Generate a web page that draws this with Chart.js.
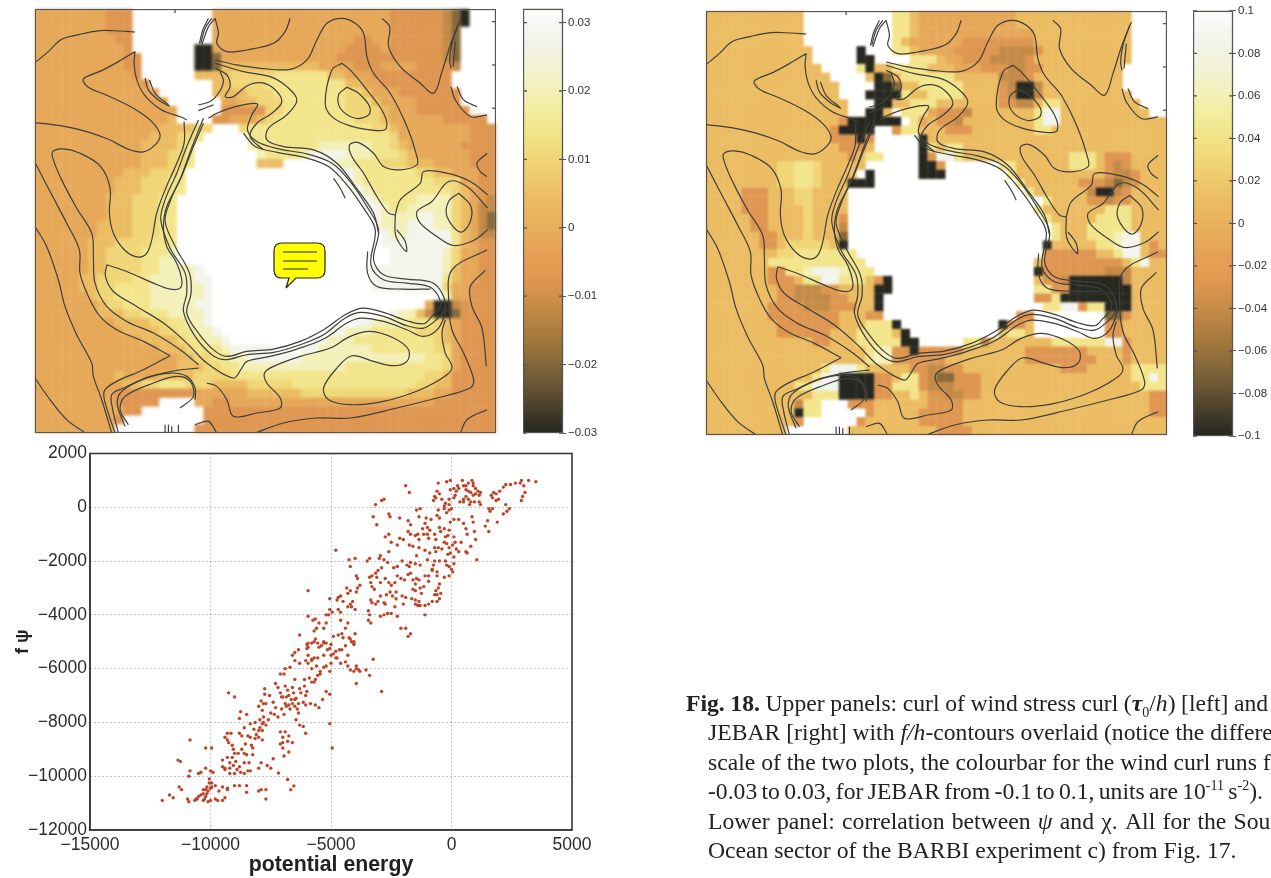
<!DOCTYPE html>
<html><head><meta charset="utf-8">
<script src="https://cdn.jsdelivr.net/npm/chart.js@4"></script>
<style>
html,body{margin:0;padding:0;background:#fff;width:1271px;height:878px;overflow:hidden}
canvas{position:absolute;filter:blur(0.55px)}
#windField{filter:blur(1.5px)}
#jebarField{filter:blur(0.9px)}
#note{position:absolute;left:270px;top:240px}
.cap{position:absolute;left:708px;font:23.65px/29px "Liberation Serif",serif;color:#222;white-space:nowrap;width:563px;overflow:hidden;filter:blur(0.3px)}
.cap sup,.cap sub{font-size:14px;line-height:0}
</style></head><body>
<canvas id="windField"></canvas><canvas id="windLines"></canvas><canvas id="windBar"></canvas>
<canvas id="jebarField"></canvas><canvas id="jebarLines"></canvas><canvas id="jebarBar"></canvas>
<canvas id="scatter"></canvas>
<svg id="note" width="60" height="54"><path d="M12 3H47Q55 3 55 11V30Q55 38 47 38H26L16 48L19 38H12Q4 38 4 30V11Q4 3 12 3Z" fill="#ffff00" stroke="#222" stroke-width="1.2"/><path d="M13 12H47M13 21H47M13 29H38" stroke="#222" stroke-width="1.2"/></svg>
<div class="cap" style="left:686px;width:585px;top:689px;word-spacing:-0.3px"><b>Fig. 18.</b> Upper panels: curl of wind stress curl (<b><i>τ</i></b><sub>0</sub>/<i>h</i>) [left] and</div>
<div class="cap" style="top:718px">JEBAR [right] with <i>f/h</i>-contours overlaid (notice the different</div>
<div class="cap" style="top:748px">scale of the two plots, the colourbar for the wind curl runs from</div>
<div class="cap" style="top:777px;word-spacing:-1.6px">-0.03 to 0.03, for JEBAR from -0.1 to 0.1, units are 10<sup>-11</sup> s<sup>-2</sup>).</div>
<div class="cap" style="top:807px;word-spacing:1.4px">Lower panel: correlation between <i>ψ</i> and χ. All for the Southern</div>
<div class="cap" style="top:836px">Ocean sector of the BARBI experiment c) from Fig. 17.</div>
<script>
// ---- colour scale, low to high
const colormap=["#26271f","#3a3527","#4f422c","#625033","#745c37","#866839","#96713c","#a67a3f","#b58243","#c38a47","#d2904c","#de9650","#e59c52","#e5a055","#e6a858","#e7af5a","#e9b55e","#ebbc62","#edc468","#efcd6f","#f0d676","#f1de80","#f2e58b","#f2ea99","#f3eea8","#f3f0b9","#f3f1c9","#f2f2d8","#f1f2e3","#f3f4ec","#f8f8f5","#fdfdfb"];
// ---- cell digit to value
const windLevels=[-0.03,-0.02,-0.013,-0.008,-0.002,0.003,0.008,0.012,0.018,0.025];
const jebarLevels=[-0.1,-0.066,-0.043,-0.027,-0.007,0.01,0.027,0.04,0.06,0.083];
const windTicks=[-0.03,-0.02,-0.01,0,0.01,0.02,0.03];
const jebarTicks=[-0.1,-0.08,-0.06,-0.04,-0.02,0,0.02,0.04,0.06,0.08,0.1];
const mapRightTicks=[65,195,325];
const mapTopTicks=[435];
// ---- gridded fields: 52 columns, 48 rows, "." = no data
const windRows=[
"4444444433 3......... 4444444444 4444444444 333333210. ..",
"4444444433 3......... 4444444444 4444444444 333333210. ..",
"4444444433 3......... 4444444444 4444444444 33333321.. ..",
"4444444443 3......... 4444444444 4444443344 33333321.. ..",
"4444444444 3.......00 4444444444 4444433334 33333321.. ..",
"4444444444 33......00 1444444444 4444333333 33333321.. ..",
"4444444444 33......00 1555555555 5544443334 44433332.. ..",
"4444444444 43......55 5566666777 7775544433 3333333... ..",
"4444444444 443....... 5566667777 7777755443 3333333... ..",
"4444444444 4444...... 5555666777 7777766544 43333333.. ..",
"4444444444 44444..... .445566677 7777766654 44433333.. ..",
"4444444444 444444.... .333336677 7777766665 444333333. ..",
"4444444444 444445.... 3344456777 7777776665 4444443333 3.",
"4444444444 4444555566 ...6777777 7777777766 5444444443 33",
"4444444444 444555667. ....777777 7777777777 6444444443 33",
"4444444444 44555567.. ....877777 7788888877 6544444433 33",
"4444444444 44555667.. .....87777 8999988877 7654444443 33",
"4444444444 44555667.. .....555.. ...9887776 6655544443 33",
"4444444444 5556667... .......... ....998777 7776655444 33",
"4444444445 5566677... .......... .....98777 7777766644 33",
"4444444445 5566677... .......... .....99877 7777777654 33",
"4444444455 566677.... .......... ......9987 7778888654 32",
"4444444455 566677.... .......... .......998 7788888654 22",
"4444444455 566677.... .......... ........98 8889988654 21",
"4444444555 566677.... .......... ........98 8899988654 21",
"4444444555 566677.... .......... .........9 8899999754 22",
"4444445556 666777.... .......... .........9 9999999754 33",
"4444445566 667778.... .......... .......... 9999998644 33",
"4444445566 667788.... .......... .......... 9999998644 33",
"4444445566 667788889. .......... ........99 9999998544 33",
"4444455666 6778888899 .......... ........99 9999997544 33",
"4444455667 7778888889 .......... ........99 9999996443 33",
"4444445667 7778888889 .......... .......... ......8443 33",
"4444444566 7778888899 .......... .......... ....400233 33",
"4444444555 6677788889 .......... .......... 9885200133 33",
"4444444445 5556677889 .......... ......9988 8877765433 33",
"4444444444 5555667788 9......... ...9988877 7776665433 33",
"4444444444 4455556778 89........ .998887777 7777765433 33",
"4444444444 4444555677 7899999... 9988888877 7777766433 33",
"4444444444 4444445566 7788999999 8888888888 8888776433 33",
"4444444444 4444445556 6778888888 8888877777 7777776433 33",
"4444444445 4444555566 6677777777 7777777777 7777665333 33",
"4444444444 5566777666 5555666667 7777777777 7776655333 33",
"4444444443 3333333344 4444555555 6666666666 6655544333 33",
"4444444443 3333....44 3344444444 4444444444 4444433333 33",
"4444444444 33.......3 3333333333 3333333333 3333333333 33",
"4444444443 .........3 3333333333 3333333333 3333333333 33",
"444444444. ........33 3333333333 3333333333 3333333333 33"];
const jebarRows=[
"5555555555 5......... .775444444 4444455555 55555555.. ..",
"5555555555 5......... .775444444 4444455555 55555555.. ..",
"5555555555 5......... .775444444 4444444555 55555555.. ..",
"5555555555 5......... .754444443 3333333555 55555555.. ..",
"5555555555 55.....0.. .775444433 3332222355 55555555.. ..",
"5555555555 55.....00. ...7775443 3322223555 55555555.. ..",
"5555555555 555....705 5777755544 4333223355 5555555... ..",
"5555555555 5555....50 1577777755 5552223555 5555555... ..",
"5555555555 55555....0 0155777775 5553200255 5555555... ..",
"5555555555 55555...00 0075577775 5553200255 55555555.. ..",
"5555555555 555555...0 0557775555 5553322577 555555555. ..",
"5555555555 555555..00 5.77743332 5555555799 5555555555 ..",
"5555555555 5555530000 00.7453325 5555555799 5555555555 55",
"5555555555 555530000. .377555333 5555555775 5555555555 55",
"5555555555 555533303. ....055555 5555555555 5555555555 55",
"5555555555 555553335. ....075775 5555555555 5555555555 55",
"5555555555 5555553577 ....039975 5555555555 5777533355 55",
"5555555566 77655555.. ....003... ...7755555 5777532355 55",
"5555555566 7765555.0. ....000... ....755555 5555532235 55",
"5555555566 776555000. .......... .....75555 5533321235 55",
"5555333555 665555.... .......... ......7555 5552002355 55",
"5555333555 665555.... .......... ........75 5553323355 55",
"5555333555 565555.... .......... .......755 5555577755 55",
"5555533555 565553.... .......... ........75 5555777755 55",
"5555533555 565552.... .......... .........7 5557777755 55",
"5555553355 565551.... .......... .........7 5557778995 55",
"5555553356 666650.... .......... ........05 5555778995 35",
"5555555566 7777777... .......... ........33 3333557995 33",
"5555555777 77777777.. .......... .......533 3333333579 55",
"5555555337 789998777. .......... .......033 3333322255 55",
"5555555333 5779977753 0......... .......533 2000000255 55",
"5555555533 2223355550 0......... .......773 3000000055 55",
"5555555533 2222335550 .......... .......337 0000000055 55",
"5555555333 3222333550 .......... ........77 9937700055 55",
"5555555333 3333355533 .......... .....33... .....11355 55",
"5555555533 3333355577 70........ ...0335... .....33555 55",
"5555555533 3333555777 750....... ...5775... .....33555 55",
"5555555555 5533555777 7700.....7 7255555557 7777799355 55",
"5555555555 5555555578 8330333335 5555553333 3335555355 55",
"5555555555 5555555578 8333333555 5555553333 3333555355 55",
"5555555555 5557999755 5553322335 5555555555 3335555577 77",
"5555555555 5579900003 3577321133 3555555555 5555555577 97",
"5555555555 7799900003 3777322233 3555555555 5555555557 77",
"5555555555 5577700003 3557533223 3555555555 5555555555 33",
"5555555555 277...3335 5555533335 5555555555 5555555555 33",
"5555555555 077.....35 5555333335 5555555555 5555555555 33",
"5555555555 3......355 5555333335 5555555555 5555555555 55",
"555555555. ......5555 5555553333 5555555555 5555555555 55"];
// ---- f/h contours, in map units (x 15..1397, y 27..1300)
const contours=[
[15,188,55,155,95,118,150,103,210,92,270,93,315,96],
[315,155,265,185,215,212,160,237,175,262,235,288,310,325,365,365,390,405,375,435,340,456,295,448,235,418,170,395,95,378,15,368],
[315,155,312,195,322,245,347,290,395,330,455,352,470,360],
[345,235,355,270,385,300,420,320],[358,240,375,280,415,315],
[462,365,462,430,440,490,405,570,380,640,365,720,350,760,325,772,285,752,250,700,238,640,240,565,212,500,150,460,100,447,68,455,70,480,95,540,140,625,185,700,190,770,195,850,230,920,290,965,370,1000,450,1050,505,1095],
[15,488,60,575,110,670,148,750,150,820,175,890,210,950,260,990,340,1025,420,1068],
[15,680,50,740,85,840,105,920,140,1005,185,1090,190,1130,215,1200,245,1300],
[420,1068,340,1110,260,1145,225,1170,222,1195,238,1250,255,1300],
[505,1105,440,1112,360,1130,280,1165,245,1185,248,1230,265,1300],
[495,1200,495,1165,470,1130,420,1120,350,1135,275,1175,262,1215,285,1280],
[450,1225,490,1190,480,1145,440,1130,370,1150,285,1190,270,1230,295,1275],
[15,1135,60,1200,110,1260,165,1300],
[405,1275,405,1300],[415,1275,415,1300],[425,1280,425,1300],[445,1275,445,1300],
[230,795,290,815,370,850,420,868,450,865,455,840,440,790,410,740,400,680,410,620,450,540,490,440,520,370],
[230,795,226,830,250,875,320,920,400,970,470,1030,530,1090,610,1135,635,1105,650,1085,720,1070,800,1048,880,1018,950,970,990,955,1060,965,1130,990,1180,1010,1225,985,1250,925],
[505,360,470,440,440,520,405,600,392,660,420,745,465,820,470,880,460,935,495,1010,545,1065,585,1080,650,1065,730,1058,810,1035,880,1005,945,955,990,938,1060,950,1130,978,1180,985,1218,960,1245,925,1235,880,1205,848,1130,838,1060,825,1030,780,1045,690,1010,620,960,545,905,490,830,462,745,447,680,425,652,390,665,345,682,312,625,318,560,340,535,355],
[520,355,488,435,455,525,420,605,405,665,438,745,478,820,483,880,470,940,505,1000,552,1052,590,1070,650,1055,730,1048,810,1025,880,990,945,945,995,925,1060,938,1130,963,1180,972,1205,950,1230,920,1222,885,1195,860,1130,850,1060,840,1022,795,1035,690,1000,625,950,555,895,500,825,473,745,458,675,440,640,400],
[1012,755,1012,820,1040,860,1120,868,1200,868],
[910,535,930,565,945,595],
[555,55,565,100,560,130,590,155,650,150,730,130,765,95,780,55],
[555,180,620,195,690,205,780,208,830,180,860,120,890,70,935,55,975,70,1000,100,1010,170,1030,220,1080,280,1130,380,1160,470,1160,495,1110,510,1060,500,1030,460,985,428,958,435,965,470,1000,520,1040,590,1075,640,1095,645],
[1095,645,1097,710,1128,755,1125,725,1100,690],
[1095,645,1110,600,1170,550,1180,515,1250,520,1320,545,1372,585],
[555,190,640,215,720,230,770,260,800,300,770,345,715,385,710,420,760,440,850,450,920,490,975,560,1030,640,1045,700],
[555,205,590,225,600,260,585,290,610,290,650,258,690,248,730,265,755,305,725,340,680,370,660,410,700,450],
[555,55,535,80,515,135],[545,55,525,85,512,130],[535,55,518,90,508,130],
[505,315,540,305,565,280,580,245,570,215],[505,332,550,315],
[1055,55,1078,80,1075,140,1110,200,1170,250,1210,280,1235,215,1262,130,1290,60],
[1285,70,1265,130,1258,180,1262,205],[1275,125,1268,200],
[1262,260,1275,300,1320,350,1370,345],[1280,260,1300,300,1340,320],
[935,190,905,210,885,310,905,350,960,378,1040,392,1068,385,1060,340,1010,270,960,210,935,190],
[950,262,925,285,930,325,975,355,1015,345,1018,320,985,280,950,262],
[1370,460,1340,490,1350,515,1370,530],
[1372,690,1330,722,1270,737,1220,710,1170,670,1160,635,1205,605,1255,545,1310,560,1372,625],
[1285,580,1255,605,1250,650,1290,697,1318,670,1322,620,1285,580],
[530,1150,560,1160,590,1200,610,1250,680,1240,750,1225,750,1195,710,1150,703,1120,730,1100,810,1070,900,1045,960,1010,1020,995,1090,1015,1135,1050,1130,1085,1090,1098,1030,1085,965,1068,920,1105,880,1165,895,1200,960,1215,1060,1205,1170,1170,1250,1125,1265,1100,1245,1060,1235,1000,1245,960],
[675,1300,760,1270,860,1255,960,1255,1100,1225,1220,1195,1320,1165,1330,1140,1300,1060,1265,990,1255,900,1265,810,1370,750],
[1365,812,1320,860,1325,920,1355,985,1368,1100],
[1290,1300,1310,1260,1370,1230],
[495,1275,535,1265,560,1300]
];
// ---- lower panel: potential energy, f psi pairs
const energyPsiPairs=[
3500,950,3200,1000,2900,1000,2850,900,2650,900,2450,850,2250,850,2150,750,3000,800,3050,550,2950,400,2900,250,2250,100,2400,-50,2300,-150,2150,-250,1900,-550,1950,300,1850,250,1700,350,1650,450,1750,550,1850,500,2000,600,1550,-50,1700,-50,1600,-150,1500,-500,1400,-700,1550,-900,1050,-1950,1000,-1200,950,-900,800,-1450,650,-1700,600,-1650,
-200,950,-550,900,-50,1000,450,1000,850,1000,900,900,900,800,700,900,600,800,500,800,250,800,100,700,-50,650,200,600,300,700,600,650,700,600,800,550,1000,700,1100,600,1000,500,1200,550,1150,450,900,450,600,400,500,300,700,300,800,200,950,200,1150,200,1200,100,750,100,500,200,350,200,150,450,100,350,-100,300,-250,150,-400,300,-500,500,-600,600,-650,350,-700,400,-750,250,-300,50,-100,100,0,-50,-100,-100,-200,-200,-300,-50,-550,-100,-500,-400,-600,-300,-850,-450,-1300,-50,-1450,-100,-1350,-350,-1800,-500,-1700,-1000,-1800,-900,-1700,-650,-1050,-400,-1100,-600,-1000,-750,-1200,-800,-1150,-1000,-1000,-1000,-950,-1150,-900,-850,-700,-1000,-650,-1200,-500,-750,-450,-900,-300,-800,-250,-1100,-150,-1050,-100,-850,-50,-550,100,-450,300,-450,500,-600,600,-800,650,-1000,900,-550,850,-350,-1400,-1000,-1500,-1050,-1350,-1200,
100,-1100,150,-1300,50,-1400,-100,-1500,-200,-1350,-300,-1300,200,-1550,300,-1650,400,-1300,-50,-1700,100,-1850,-150,-1750,-400,-1550,-550,-1500,-700,-1500,-650,-1650,-900,-1700,-1100,-1600,-1350,-1500,-1450,-1800,-1600,-1450,-1750,-1400,-2000,-1200,-2150,-1150,-2250,-1400,-2500,-1300,-2600,-1000,-2750,-1100,-2600,-1650,-2950,-1800,-3000,-1900,-3400,-1900,-3500,-2000,-4000,-1900,-4250,-1950,-4200,-2200,-4800,-1600,-1000,-1950,-700,-2000,-500,-2000,-250,-2000,-200,-2150,-100,-2200,0,-2300,100,-2100,50,-2400,-100,-2550,-300,-2600,-600,-2400,-800,-2350,-950,-2550,
-3150,100,-2900,250,-2800,300,-3250,-350,-3100,-650,-2600,-250,-2550,-350,-2150,-400,-1900,800,-1750,550,
-1300,-2150,-1500,-2100,-1700,-2050,-1850,-2150,-1750,-2200,-2050,-2000,-2250,-2200,-2400,-2250,-2650,-2050,-2800,-1950,-2900,-2250,-3050,-2350,-3150,-2450,-3300,-2550,-3400,-2600,-3350,-2800,-3300,-2950,-3200,-3050,-3100,-2600,-2950,-2800,-2750,-2650,-2600,-2800,-2500,-2900,-2350,-2800,-2250,-2550,-2100,-2650,-1950,-2700,-1800,-2500,-1700,-2450,-1600,-2700,-1500,-2850,-1450,-2650,-1350,-2700,-1300,-3000,-1500,-3100,-1600,-3050,-1250,-3200,-1150,-2950,-1100,-2550,-950,-2750,-800,-2300,-750,-2150,-600,-2550,-500,-2850,-550,-3000,-650,-3100,-700,-3250,-600,-3250,-450,-3200,-500,-3400,-600,-3500,-800,-3500,-950,-3600,-1100,-3650,-1100,-4000,-1350,-3500,-1400,-3650,-1500,-3600,-1500,-3450,-1300,-3650,-1650,-3400,-1900,-3350,-2050,-3300,-2300,-3150,-2450,-3300,-2550,-3150,-2700,-3250,-2800,-3550,-2750,-3600,-2950,-3300,-3050,-3500,-3150,-3600,-3300,-3550,-3350,-3450,-3450,-3850,-3400,-4000,-3450,-4200,-3350,-4300,-2950,-4050,-2800,-4000,-2650,-3950,-2500,-3950,-2350,-3700,-2300,-3400,-2000,-3600,-2250,-4050,-2100,-4500,-1900,-4500,-1700,-4700,-1800,-4800,
-3800,-2900,-3950,-3150,-3900,-3000,-4200,-3100,-4300,-3200,-4350,-3000,-4200,-3600,-4500,-3500,-4600,-3300,-4600,-3900,-4000,-3800,-4100,-3500,-4150,-3700,-4300,-3700,-3900,-2650,-3950,-2550,-4700,-3350,-4750,-3450,-4700,-3800,-4000,-4700,-4900,-4800,-4200,-4900,-4050,-5100,-4050,-5000,-4300,-5500,-3950,-5900,-3950,-6000,-3850,-6050,
-4300,-4300,-4400,-4500,-4550,-4700,-4500,-4850,-4700,-4750,-4250,-4850,-4150,-5000,-4050,-5050,-4400,-5150,-4550,-5300,-4650,-5300,-4800,-5350,-4900,-5450,-4800,-5600,-5000,-5500,-5050,-5250,-5000,-5100,-5200,-5050,-5300,-5000,-5400,-5150,-5550,-5050,-5650,-4900,-5800,-5050,-5950,-5200,-6000,-5100,-5500,-4300,-5600,-4500,-5700,-4600,-5750,-4200,-5650,-4150,-5200,-4000,-5100,-4000,-5050,-3800,-5050,-3400,-5300,-4500,-4950,-3900,-4600,-4200,-5200,-4300,-5300,-5500,-5550,-5600,-5700,-5600,-5800,-5700,-5950,-5500,
-12000,-10900,-11700,-10700,-11550,-10800,-11300,-10400,-11200,-10500,-10900,-10950,-10950,-10850,-10650,-10900,-10550,-10850,-10500,-10750,-10300,-10900,-10200,-10750,-10100,-10950,-10000,-10900,-9800,-10850,-9700,-10900,-9500,-10900,-9400,-10800,-10300,-10500,-10200,-10500,-10100,-10550,-10000,-10450,-9950,-10400,-9950,-10250,-10050,-10100,-9900,-9850,-10000,-9800,-10200,-9700,-10400,-9850,-10500,-9900,-10900,-10000,-10850,-9800,-11250,-9450,-11350,-9400,-10850,-8650,-10200,-8950,-9950,-8950,-9800,-10350,-9650,-10550,-9500,-10400,-9300,-10500,-10150,-10400,-10300,-10650,-10150,-10650,-10050,-10250,-10400,-10700,-10600,-10850,-10250,-10850,
-9300,-10450,-9000,-10350,-8800,-10350,-8500,-10350,-8500,-10600,-8000,-10550,-7900,-10500,-7700,-10500,-7700,-10850,-6670,-10500,-6540,-10360,-6800,-10120,-7180,-9880,-7500,-9700,-7650,-9600,-7900,-9500,-8000,-9700,-8350,-9800,-8450,-9800,-8600,-9900,-8750,-9850,-8900,-9750,-9000,-9900,-9200,-9900,-9400,-9750,-9500,-9650,-9500,-9400,-9300,-9300,-9200,-9500,-9100,-9300,-9000,-9150,-9100,-8850,-9250,-8750,-9300,-8650,-9300,-8400,-9400,-8550,-8800,-8400,-8700,-8500,-8600,-8200,-8700,-9000,-8850,-9150,-8600,-9150,-8500,-9200,-8400,-9500,-8250,-9200,-8250,-8950,-8150,-8600,-8000,-8550,-7850,-8650,-7800,-8000,-7850,-8300,-8000,-8300,-8150,-8000,-8350,-8050,-8500,-7700,-8800,-7850,-8750,-7600,-7950,-7900,-7850,-7550,-8000,-7400,-7900,-7200,-7800,-7300,-7750,-6950,-7750,-6750,-7400,-9350,-9250,-6900,-9000,-7050,-9050,-9600,-9200,-9700,-8950,-9450,-8800,-9650,-8600,-9500,-8550,-8800,-8450,-8500,-9050,-9000,-9150,-8400,-9400,-9700,
-7100,-8350,-7000,-8550,-6900,-8350,-6800,-8700,-6750,-8500,-6600,-8750,-7100,-8800,-7000,-8750,-7000,-8950,-6950,-9250,-6750,-9100,-6150,-8150,-6050,-8400,-5050,-8050,-4950,-8950,-7800,-7800,-7600,-7900,-7700,-8100,-7500,-7650,-7350,-7700,-7200,-7800,-7050,-7500,-6950,-7700,-6850,-7400,-6750,-7000,-7000,-7050,-7100,-6900,-7200,-6700,-7300,-6550,-7100,-6200,-6950,-6200,-6900,-6000,-6700,-5950,-6600,-5500,-6300,-4750,-5950,-4050,-5950,-3100,-6900,-6650,-6800,-6800,-6600,-6700,-6500,-6400,-6300,-6750,-6250,-6900,-6100,-6650,-6050,-7000,-6000,-6850,-6150,-7250,-6050,-7350,-5850,-7300,-5650,-7350,-5500,-7450,-5350,-7150,-6400,-7500,-6500,-7400,-6700,-7500,-6350,-7650,-6450,-7900,-6300,-8100,-6100,-6400,-5900,-6350,-5700,-6500,-5550,-6250,-5450,-6100,-5300,-5950,-5200,-5900,-5050,-6100,-5000,-5800,-5800,-6000,-5950,-5800,-5600,-5900,-5800,-5650,-6050,-5700,-6300,-5800,-6500,-5700,-6500,-5400,-6350,-5300,-6000,-5250,-5950,-5050,-5700,-5000,-5500,-5200,-5300,-5050,-5150,-5300,-4750,-5600,-4600,-5800,-4400,-5750,-4300,-5900,-4200,-6050,-4050,-6100,-3800,-6100,-3950,-6550,-3550,-6050,-3400,-6250,-3250,-5650,-2900,-6850,-5050,-6950,-5200,-6850,-5450,-6200,-5650,-6400,-5800,-6500,-6650,-7150,-6600,-7300,-6850,-7050,-6450,-7100,-6550,-6900,-6900,-7300,-7050,-7050,-6750,-7350,-6500,-7150,-6350,-7300,-7300,-7450,-7400,-7250,-7550,-7000,-7700,-7300,-7850,-8050,-7950,-8200,-8100,-8450,-8200,-8250,-8350,-8550,-8300,-8850
];
// ---- lower panel axes
const energyTicks=[-15000,-10000,-5000,0,5000];
const psiTicks=[-12000,-10000,-8000,-6000,-4000,-2000,0,2000];

const MAP_X=[15,1397], MAP_Y=[27,1300], COLS=52, ROWS=48;
const hx=s=>[1,3,5].map(i=>parseInt(s.substr(i,2),16));
function colourOf(v,lo,hi){
  const i=Math.min(colormap.length-1,Math.max(0,Math.floor((v-lo)/(hi-lo)*colormap.length)));
  return colormap[i];
}
const framePlugin={id:'frame',afterDatasetsDraw(c,a,o){
  const g=c.chartArea,x=c.ctx;x.save();x.strokeStyle=o.color||'#444';x.lineWidth=o.width||1.4;
  x.strokeRect(g.left+.5,g.top+.5,g.right-g.left-1,g.bottom-g.top-1);
  const s=c.scales.y;
  if(o.ticks){(s.ticks).forEach(t=>{const y=s.getPixelForValue(t.value);x.beginPath();x.moveTo(g.left,y);x.lineTo(g.left+4,y);x.moveTo(g.right,y);x.lineTo(g.right-4,y);x.stroke();});}
  if(o.mapTicks){
    mapRightTicks.forEach(v=>{const y=s.getPixelForValue(v);x.beginPath();x.moveTo(g.right,y);x.lineTo(g.right-4,y);x.stroke();});
    mapTopTicks.forEach(v=>{const p=c.scales.x.getPixelForValue(v);x.beginPath();x.moveTo(p,g.top);x.lineTo(p,g.top+4);x.stroke();});
  }
  x.restore();
}};
function place(id,l,t,w,h){const e=document.getElementById(id);e.width=w;e.height=h;e.style.left=l+'px';e.style.top=t+'px';e.style.width=w+'px';e.style.height=h+'px';return e;}
function mapOptions(frame){return {responsive:false,animation:false,events:[],layout:{autoPadding:false,padding:0},
    plugins:{legend:{display:false},tooltip:{enabled:false},frame:frame},
    scales:{x:{type:'linear',display:false,min:MAP_X[0],max:MAP_X[1]},y:{type:'linear',display:false,reverse:true,min:MAP_Y[0],max:MAP_Y[1]}}};}
function drawMap(fieldId,lineId,box,rows,levels,lo,hi){
  const pts=[],cols=[];
  const cw=(MAP_X[1]-MAP_X[0])/COLS,ch=(MAP_Y[1]-MAP_Y[0])/ROWS;
  rows.forEach((row,r)=>{[...row.replace(/ /g,'')].forEach((d,c)=>{
    if(d==='.')return;
    pts.push({x:MAP_X[0]+(c+.5)*cw,y:MAP_Y[0]+(r+.5)*ch});
    cols.push(colourOf(levels[+d],lo,hi));
  });});
  new Chart(place(fieldId,...box),{type:'scatter',data:{datasets:[
    {data:pts,pointStyle:'rect',pointRadius:6.45,pointBackgroundColor:cols,pointBorderWidth:0}
  ]},options:mapOptions({})});
  const lines=contours.map(a=>{const p=[];for(let i=0;i<a.length;i+=2)p.push({x:a[i],y:a[i+1]});
    return {data:p,showLine:true,pointRadius:0,borderColor:'#3f3f3d',borderWidth:1.2,tension:.35,fill:false};});
  new Chart(place(lineId,...box),{type:'scatter',data:{datasets:lines},plugins:[framePlugin],options:mapOptions({color:'#555',width:1.3,mapTicks:true})});
}
function fmt(v){const r=Math.round(v*100)/100;return r===0?'0':(r<0?'−':'')+String(Math.abs(r));}
function drawBar(id,box,padT,padB,lo,hi,axisMax,tickList){
  const n=colormap.length,sets=[],k=4;
  for(let i=0;i<n-1;i++){const A=hx(colormap[i]),B=hx(colormap[i+1]);
    for(let j=0;j<k;j++){const f=j/k,a=lo+(axisMax-lo)*(i+f)/(n-1),b=lo+(axisMax-lo)*(i+f+1/k+.03)/(n-1);
      const col='rgb('+A.map((u,m)=>Math.round(u+(B[m]-u)*f)).join(',')+')';
      sets.unshift({data:[[a,Math.min(b,axisMax)]],backgroundColor:col,borderWidth:0,grouped:false,barPercentage:1,categoryPercentage:1});}}
  new Chart(place(id,...box),{type:'bar',data:{labels:[''],datasets:sets},plugins:[framePlugin],
   options:{responsive:false,animation:false,events:[],layout:{padding:{top:padT,bottom:padB,left:0,right:0}},
    plugins:{legend:{display:false},tooltip:{enabled:false},frame:{color:'#555',width:1.3,ticks:true}},
    scales:{x:{display:false},
     y:{position:'right',min:lo,max:axisMax,afterFit(s){s.width=box[2]-40;},afterBuildTicks(s){s.ticks=tickList.map(v=>({value:v}));},
        border:{display:false},grid:{drawOnChartArea:false,tickLength:3,color:'#555'},
        ticks:{callback:fmt,padding:2,autoSkip:false,maxRotation:0,color:'#333',font:{family:'"Liberation Sans"',size:11.5,weight:'500'}}}}}});
}
drawMap('windField','windLines',[35,9,461,424],windRows,windLevels,-0.03,0.03);
drawMap('jebarField','jebarLines',[706,11,461,424],jebarRows,jebarLevels,-0.1,0.1);
drawBar('windBar',[523,0,80,445],8,12,-0.03,0.03,0.032,windTicks);
drawBar('jebarBar',[1193,2,78,445],8,11,-0.1,0.1,0.1,jebarTicks);

const pts=[];for(let i=0;i<energyPsiPairs.length;i+=2)pts.push({x:energyPsiPairs[i],y:energyPsiPairs[i+1]});
const tickFont={family:'"Liberation Sans"',size:17.5};
const dotted={color:'#8a8a8a',lineWidth:1,tickLength:0};
new Chart(place('scatter',0,440,600,438),{type:'scatter',data:{datasets:[{data:pts,pointRadius:1.7,pointBackgroundColor:'#bf4427',pointBorderWidth:0}]},
 options:{responsive:false,animation:false,events:[],layout:{autoPadding:false,padding:{top:12,right:28,left:0,bottom:0}},
  plugins:{legend:{display:false},tooltip:{enabled:false}},
  scales:{
   x:{type:'linear',min:-15000,max:5000,afterFit(s){s.height=48;},afterBuildTicks(s){s.ticks=energyTicks.map(v=>({value:v}));},
      grid:dotted,border:{color:'#3a3a3a',width:1.6,dash:[1,3]},
      ticks:{callback:v=>(v<0?'−':'')+Math.abs(v),padding:5,maxRotation:0,autoSkip:false,color:'#2c2c2c',font:tickFont},
      title:{display:true,text:'potential energy',color:'#222',padding:0,font:{family:'"Liberation Sans"',size:21.3,weight:'bold'}}},
   y:{type:'linear',min:-12000,max:2000,afterFit(s){s.width=90;},afterBuildTicks(s){s.ticks=psiTicks.map(v=>({value:v}));},
      grid:dotted,border:{color:'#3a3a3a',width:1.6,dash:[1,3]},
      ticks:{callback:v=>(v<0?'−':'')+Math.abs(v),padding:3,autoSkip:false,color:'#2c2c2c',font:tickFont},
      title:{display:true,text:'f ψ',color:'#222',padding:{top:12,bottom:0},font:{family:'"Liberation Sans"',size:18,weight:'bold'}}}
  }},
 plugins:[{id:'box',afterDatasetsDraw(c){const g=c.chartArea,x=c.ctx;x.save();x.strokeStyle='#3a3a3a';x.lineWidth=1.6;x.strokeRect(g.left,g.top,g.right-g.left,g.bottom-g.top);x.restore();}}]});
</script>
</body></html>
